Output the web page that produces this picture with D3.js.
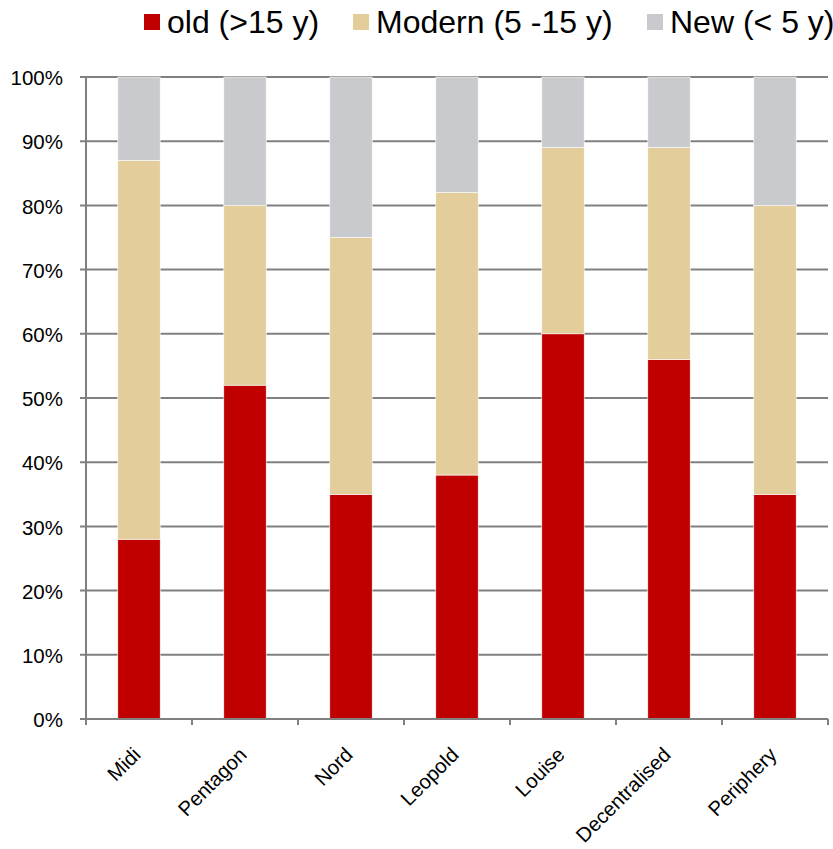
<!DOCTYPE html>
<html>
<head>
<meta charset="utf-8">
<script src="https://cdn.jsdelivr.net/npm/d3@7"></script>
<style>
  html, body { margin: 0; padding: 0; background: #fff; }
  svg { display: block; font-family: "Liberation Sans", Arial, sans-serif; }
</style>
</head>
<body>
<svg id="chart" width="833" height="849"></svg>
<script>
// Office stock by age, share per district
const districts = ["Midi", "Pentagon", "Nord", "Leopold", "Louise", "Decentralised", "Periphery"];
const oldStock = [28, 52, 35, 38, 60, 56, 35];
const modernStock = [59, 28, 40, 44, 29, 33, 45];
const newStock = [13, 20, 25, 18, 11, 11, 20];
const seriesNames = ["old (>15 y)", "Modern (5 -15 y)", "New (< 5 y)"];
const seriesColors = ["#C00000", "#E2CD9B", "#C9CACE"];
const yTicks = [0, 10, 20, 30, 40, 50, 60, 70, 80, 90, 100];

const svg = d3.select("#chart");
const margin = { left: 86, right: 5, top: 77, bottom: 130 };
const W = 833, H = 849;
const x0 = margin.left, x1 = W - margin.right;
const yTop = margin.top, yBot = H - margin.bottom;

const rows = districts.map((d, i) => ({ district: d, old: oldStock[i], modern: modernStock[i], new: newStock[i] }));
const keys = ["old", "modern", "new"];
const stacked = d3.stack().keys(keys)(rows);

const x = d3.scaleBand().domain(districts).range([x0, x1]).paddingInner(0.6).paddingOuter(0.3);
const y = d3.scaleLinear().domain([0, 100]).range([yBot, yTop]);
const color = d3.scaleOrdinal().domain(keys).range(seriesColors);

// gridlines with left ticks
const grid = svg.append("g").attr("class", "grid");
grid.selectAll("line").data(yTicks).join("line")
  .attr("x1", x0 - 6).attr("x2", x1)
  .attr("y1", d => y(d)).attr("y2", d => y(d))
  .attr("stroke", "#808080").attr("stroke-width", 2);

// y labels
svg.append("g").selectAll("text").data(yTicks).join("text")
  .attr("x", 63).attr("y", d => y(d) + 1)
  .attr("dy", "0.35em")
  .attr("text-anchor", "end")
  .attr("font-size", 20.5)
  .attr("fill", "#000")
  .text(d => d + "%");

// stacked bars
svg.append("g").selectAll("g").data(stacked).join("g")
  .attr("fill", d => color(d.key))
  .selectAll("rect").data(d => d).join("rect")
  .attr("x", d => x(d.data.district))
  .attr("width", x.bandwidth())
  .attr("y", d => y(d[1]))
  .attr("height", d => y(d[0]) - y(d[1]))
  .attr("stroke", "#fff").attr("stroke-width", 0.6);

// y axis line
svg.append("line")
  .attr("x1", x0).attr("x2", x0).attr("y1", yTop).attr("y2", yBot)
  .attr("stroke", "#808080").attr("stroke-width", 2);

// x axis line with category boundary ticks
svg.append("line")
  .attr("x1", x0 - 6).attr("x2", x1).attr("y1", yBot).attr("y2", yBot)
  .attr("stroke", "#808080").attr("stroke-width", 2);
const bounds = d3.range(districts.length + 1).map(i => x0 + i * (x1 - x0) / districts.length);
svg.append("g").selectAll("line").data(bounds).join("line")
  .attr("x1", d => d).attr("x2", d => d)
  .attr("y1", yBot).attr("y2", yBot + 6)
  .attr("stroke", "#808080").attr("stroke-width", 2);

// rotated category labels
svg.append("g").selectAll("text").data(districts).join("text")
  .attr("transform", d => `translate(${x(d) + x.bandwidth() / 2 + 3},${yBot + 37}) rotate(-45)`)
  .attr("text-anchor", "end")
  .attr("font-size", 20.3)
  .attr("fill", "#000")
  .text(d => d);

// legend
const legendX = [144, 353, 647];
const lg = svg.append("g");
seriesNames.forEach((name, i) => {
  lg.append("rect").attr("x", legendX[i]).attr("y", 14).attr("width", 16).attr("height", 16)
    .attr("fill", seriesColors[i]);
  lg.append("text").attr("x", legendX[i] + 23).attr("y", 33)
    .attr("font-size", 32).attr("fill", "#000").text(name);
});
</script>
</body>
</html>
